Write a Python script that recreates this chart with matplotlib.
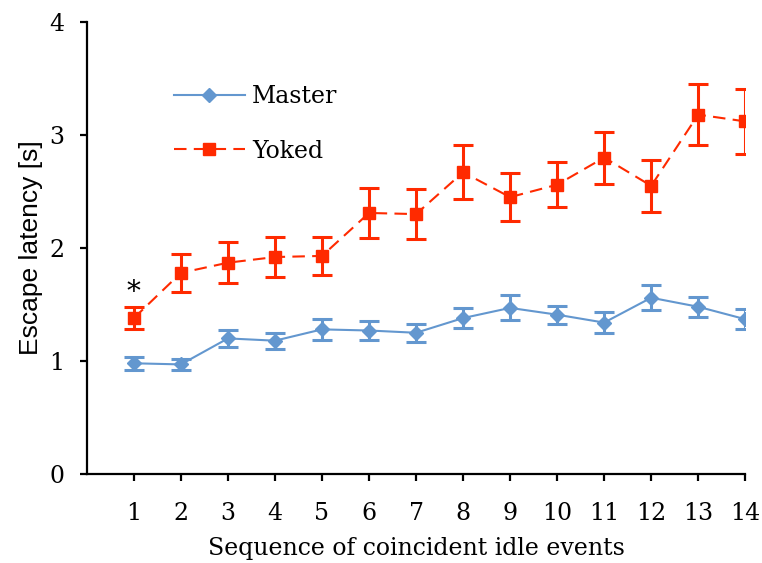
import matplotlib
matplotlib.use('Agg')
import matplotlib.pyplot as plt

# values
sequence = list(range(1, 15))
master = [0.98, 0.97, 1.20, 1.18, 1.28, 1.27, 1.25, 1.38, 1.47, 1.41, 1.34, 1.56, 1.48, 1.37]
master_err = [0.06, 0.05, 0.075, 0.07, 0.09, 0.08, 0.08, 0.09, 0.11, 0.08, 0.09, 0.11, 0.09, 0.09]
yoked = [1.38, 1.78, 1.87, 1.92, 1.93, 2.31, 2.30, 2.67, 2.45, 2.56, 2.80, 2.55, 3.18, 3.12]
yoked_err = [0.10, 0.17, 0.18, 0.18, 0.17, 0.22, 0.22, 0.24, 0.21, 0.20, 0.23, 0.23, 0.27, 0.29]
y_ticks = [0, 1, 2, 3, 4]

blue = '#6397cf'
red = '#ff2a00'
serif = 'DejaVu Serif'

fig = plt.figure(figsize=(7.62, 5.63), dpi=100)
ax = fig.add_axes([0.114, 0.158, 0.864, 0.803])

m = ax.errorbar(sequence, master, yerr=master_err, color=blue, lw=1.5, marker='D',
                markersize=7, elinewidth=2.2, capsize=7, capthick=2.2)
y = ax.errorbar(sequence, yoked, yerr=yoked_err, color=red, lw=1.5, ls=(0, (6, 3.5)),
                marker='s', markersize=9, elinewidth=2.2, capsize=7, capthick=2.2)

ax.text(1, 1.61, '*', ha='center', va='center', fontsize=20, family=serif)

ax.set_xlim(0, 14)
ax.set_ylim(0, 4)
ax.set_xticks(sequence)
ax.set_yticks(y_ticks)
ax.spines['top'].set_visible(False)
ax.spines['right'].set_visible(False)
for s in ('left', 'bottom'):
    ax.spines[s].set_linewidth(1.6)
ax.tick_params(direction='out', length=5, width=1.6, labelsize=17)
ax.tick_params(axis='y', pad=11)
ax.tick_params(axis='x', pad=15)
for lbl in ax.get_xticklabels() + ax.get_yticklabels():
    lbl.set_family(serif)

ax.set_xlabel('Sequence of coincident idle events', family=serif, fontsize=17, labelpad=9)
ax.set_ylabel('Escape latency [s]', family='Liberation Sans', fontsize=19, labelpad=5)

ax.legend([m[0], y[0]], ['Master', 'Yoked'], loc='upper left', bbox_to_anchor=(0.1, 0.907),
          frameon=False, handlelength=3.0, handletextpad=0.3, labelspacing=1.33,
          prop={'family': serif, 'size': 17})

fig.savefig('out.png', dpi=100)
